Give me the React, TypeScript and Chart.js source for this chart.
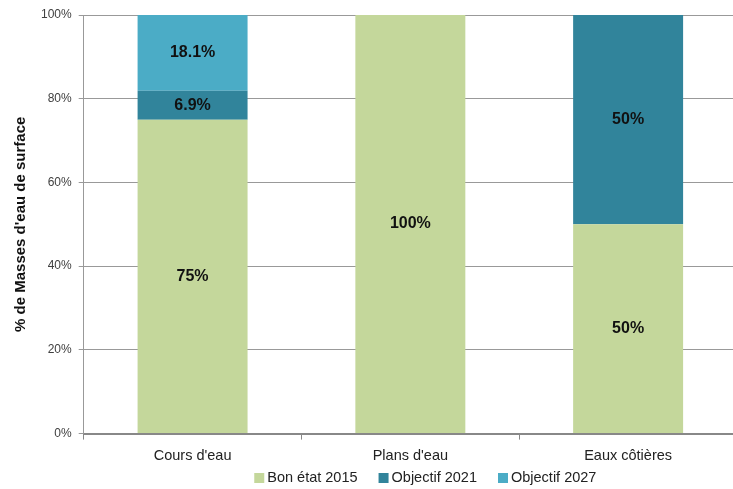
import React, { useEffect, useRef } from "react";
import { Chart, registerables } from "chart.js";

Chart.register(...registerables);

const categories = ["Cours d'eau", "Plans d'eau", "Eaux côtières"];
const bonEtat2015 = [75, 100, 50];
const objectif2021 = [6.9, 0, 50];
const objectif2027 = [18.1, 0, 0];
const seriesNames = ["Bon état 2015", "Objectif 2021", "Objectif 2027"];
const seriesColors = ["#C4D79B", "#31849B", "#4BACC6"];
const yTicks = [0, 20, 40, 60, 80, 100];

const FONT = "'Liberation Sans', Arial, sans-serif";

// Writes each segment's value in the middle of its bar piece
const segmentLabels = {
  id: "segmentLabels",
  afterDatasetsDraw(chart: any) {
    const ctx = chart.ctx;
    ctx.save();
    ctx.fillStyle = "#111";
    ctx.font = `bold 16px ${FONT}`;
    ctx.textAlign = "center";
    ctx.textBaseline = "middle";
    chart.data.datasets.forEach((ds: any, i: number) => {
      const meta = chart.getDatasetMeta(i);
      meta.data.forEach((bar: any, j: number) => {
        const v = ds.data[j];
        if (!v) return;
        const props = bar.getProps(["x", "y", "base"], true);
        ctx.fillText(`${v}%`, props.x, (props.y + props.base) / 2);
      });
    });
    ctx.restore();
  },
};

// Compact legend row under the category labels
const bottomLegend = {
  id: "bottomLegend",
  afterDraw(chart: any) {
    const ctx = chart.ctx;
    const { chartArea } = chart;
    const box = 10;
    const gap = 3;
    const spacing = 21;
    ctx.save();
    ctx.font = `14.5px ${FONT}`;
    ctx.textBaseline = "middle";
    ctx.textAlign = "left";
    const items = chart.data.datasets.map((ds: any) => ({
      text: ds.label,
      color: ds.backgroundColor,
      w: box + gap + ctx.measureText(ds.label).width,
    }));
    const total =
      items.reduce((s: number, it: any) => s + it.w, 0) + spacing * (items.length - 1);
    let x = (chartArea.left + chartArea.right) / 2 + 15 - total / 2;
    const y = chart.height - 11;
    items.forEach((it: any) => {
      ctx.fillStyle = it.color;
      ctx.fillRect(x, y - box / 2, box, box);
      ctx.fillStyle = "#222";
      ctx.fillText(it.text, x + box + gap, y);
      x += it.w + spacing;
    });
    ctx.restore();
  },
};

export default function App() {
  const ref = useRef<HTMLCanvasElement>(null);

  useEffect(() => {
    document.body.style.margin = "0";
    document.body.style.overflow = "hidden";
    const chart = new Chart(ref.current!, {
      type: "bar",
      data: {
        labels: categories,
        datasets: [bonEtat2015, objectif2021, objectif2027].map((d, i) => ({
          label: seriesNames[i],
          data: d,
          backgroundColor: seriesColors[i],
          borderWidth: 0,
          barPercentage: 0.505,
          categoryPercentage: 1,
        })),
      },
      options: {
        responsive: false,
        animation: false,
        layout: { padding: { top: 15, left: 12, right: 0, bottom: 16 } },
        plugins: {
          legend: { display: false },
          tooltip: { enabled: false },
        },
        scales: {
          x: {
            stacked: true,
            grid: {
              offset: true,
              drawOnChartArea: false,
              drawTicks: true,
              tickLength: 6,
              color: "#888",
            },
            border: { color: "#888", width: 2 },
            ticks: {
              font: { family: FONT, size: 14.5 },
              color: "#222",
              padding: 8,
            },
          },
          y: {
            stacked: true,
            min: 0,
            max: 100,
            afterBuildTicks: (axis: any) => {
              axis.ticks = yTicks.map((v) => ({ value: v }));
            },
            grid: { color: "#999", tickLength: 5 },
            border: { color: "#999" },
            ticks: {
              callback: (v: any) => `${v}%`,
              font: { family: FONT, size: 12 },
              color: "#404040",
              padding: 7,
            },
            title: {
              display: true,
              text: "% de Masses d'eau de surface",
              font: { family: FONT, size: 15, weight: "bold" },
              color: "#111",
              padding: { top: 0, bottom: 4 },
            },
          },
        },
      },
      plugins: [segmentLabels, bottomLegend],
    });
    return () => chart.destroy();
  }, []);

  return (
    <div style={{ width: 733, height: 489, overflow: "hidden" }}>
      <canvas ref={ref} width={737} height={489} style={{ display: "block" }} />
    </div>
  );
}
